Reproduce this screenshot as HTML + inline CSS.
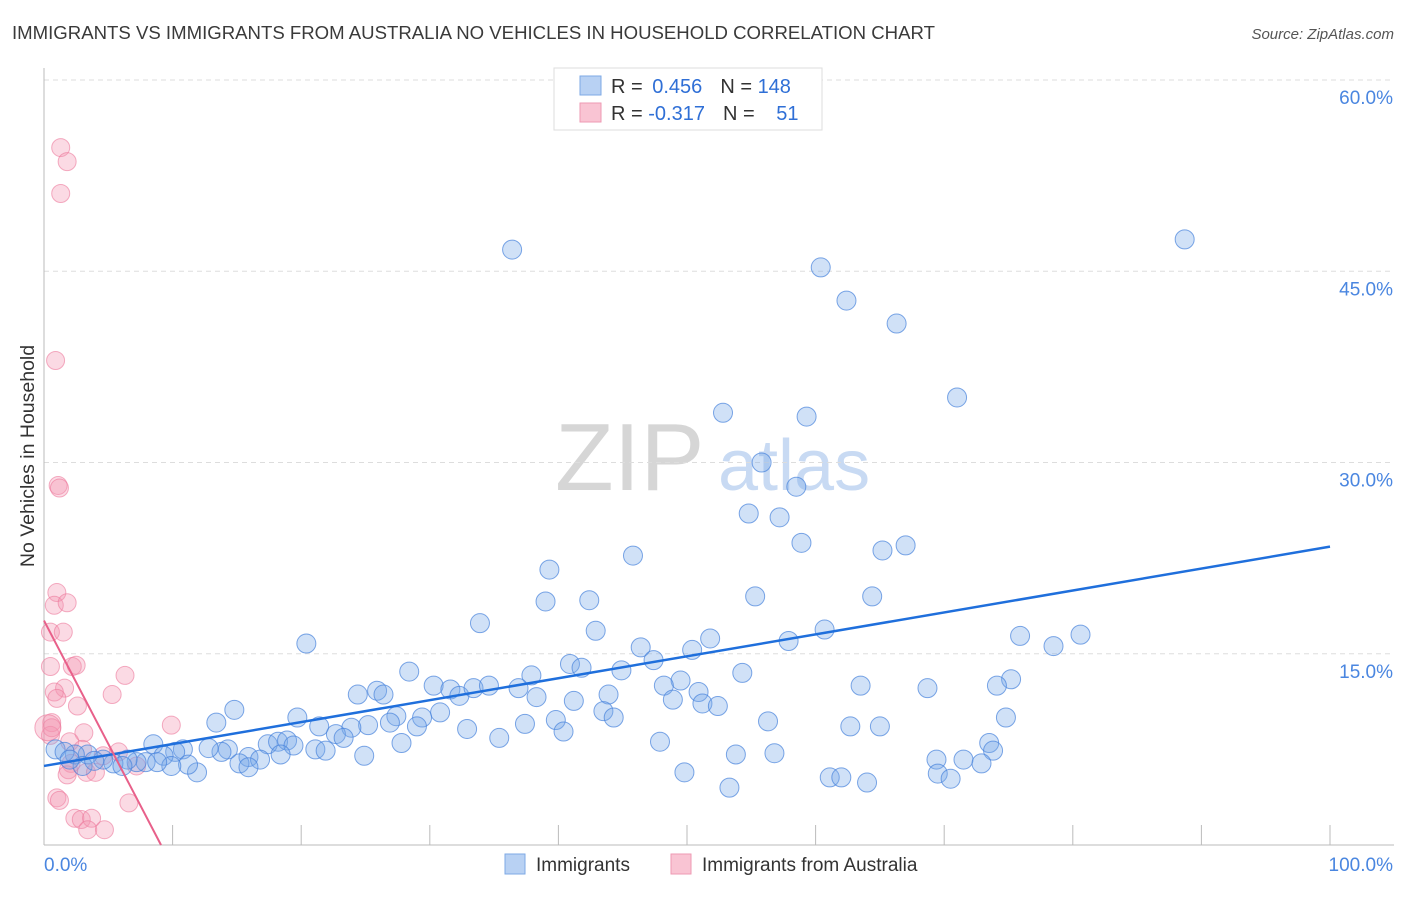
<!DOCTYPE html>
<html><head><meta charset="utf-8"><style>
body{margin:0;background:#fff;font-family:"Liberation Sans",sans-serif;}
svg text{font-family:"Liberation Sans",sans-serif;}
</style></head><body>
<svg id="chart" width="1406" height="892">
<text x="12" y="39" font-size="18.6" fill="#3a3a3a">IMMIGRANTS VS IMMIGRANTS FROM AUSTRALIA NO VEHICLES IN HOUSEHOLD CORRELATION CHART</text>
<text x="1394" y="39" font-size="15" fill="#555" font-style="italic" text-anchor="end">Source: ZipAtlas.com</text>
<g>
<text x="555" y="490" font-size="96" fill="#d6d6d6" font-family="Liberation Serif">ZIP</text>
<text x="718" y="490" font-size="72" fill="#c8daf3">atlas</text>
</g>
<g id="grid"></g>
<g id="axes"></g>
<g id="marks"></g>
<text x="34" y="456" font-size="19.5" fill="#333" text-anchor="middle" transform="rotate(-90 34 456)">No Vehicles in Household</text>
<g>
<rect x="554" y="68" width="268" height="62" fill="#fff" stroke="#ddd"/>
<rect x="580" y="76" width="21" height="19" fill="#b8d1f3" stroke="#7ea9e6"/>
<rect x="580" y="103" width="21" height="19" fill="#f9c4d3" stroke="#ee9ab3"/>
<text x="611" y="93" font-size="20" fill="#333">R = <tspan fill="#2f6fd6" dx="4">0.456</tspan><tspan dx="18">N = </tspan><tspan fill="#2f6fd6">148</tspan></text>
<text x="611" y="120" font-size="20" fill="#333">R = <tspan fill="#2f6fd6">-0.317</tspan><tspan dx="18">N = </tspan><tspan fill="#2f6fd6" dx="16">51</tspan></text>
</g>
<g>
<rect x="505" y="854" width="20" height="20" fill="#b8d1f3" stroke="#7ea9e6"/>
<text x="536" y="871" font-size="19" fill="#333">Immigrants</text>
<rect x="671" y="854" width="20" height="20" fill="#f9c4d3" stroke="#ee9ab3"/>
<text x="702" y="871" font-size="19" fill="#333">Immigrants from Australia</text>
</g>
</svg>
<script>
const blueX=[36.4,88.7,60.4,62.4,66.3,71.0,52.8,59.3,55.8,58.5,54.8,57.2,45.8,58.9,65.2,67.0,39.3,39.0,42.4,55.3,64.4,33.9,20.4,42.9,60.7,80.6,75.9,78.5,51.8,57.9,46.4,50.4,47.4,40.9,41.8,44.9,28.4,37.9,54.3,75.2,74.1,49.5,63.5,68.7,30.3,31.6,32.3,33.4,34.6,36.9,48.2,25.9,26.4,24.4,38.3,41.2,43.9,50.9,48.9,51.2,52.4,14.8,43.5,44.3,30.8,19.7,13.4,27.4,29.4,29.0,26.9,25.2,23.9,21.4,39.8,37.4,40.4,56.3,62.7,65.0,74.8,32.9,22.7,23.3,35.4,47.9,27.8,8.5,17.4,18.2,18.9,19.4,21.1,21.9,24.9,14.3,13.8,12.8,10.8,10.2,9.3,18.4,15.9,16.8,15.2,15.9,53.8,56.8,73.5,73.8,69.4,71.5,72.9,69.5,70.5,61.1,62.0,64.0,49.8,53.3,11.9,11.2,9.9,7.9,7.2,6.5,5.4,4.6,3.4,2.4,0.9,1.6,3.0,3.9,6.1,8.8,2.0];
const blueY=[46.7,47.5,45.3,42.7,40.9,35.1,33.9,33.6,30.0,28.1,26.0,25.7,22.7,23.7,23.1,23.5,21.6,19.1,19.2,19.5,19.5,17.4,15.8,16.8,16.9,16.5,16.4,15.6,16.2,16.0,15.5,15.3,14.5,14.2,13.9,13.7,13.6,13.3,13.5,13.0,12.5,12.9,12.5,12.3,12.5,12.2,11.7,12.3,12.5,12.3,12.5,12.1,11.8,11.8,11.6,11.3,11.8,12.0,11.4,11.1,10.9,10.6,10.5,10.0,10.4,10.0,9.6,10.1,10.0,9.3,9.6,9.4,9.2,9.3,9.8,9.5,8.9,9.7,9.3,9.3,10.0,9.1,8.7,8.4,8.4,8.1,8.0,7.9,7.9,8.1,8.2,7.8,7.5,7.4,7.0,7.5,7.3,7.6,7.5,7.3,7.0,7.1,6.9,6.7,6.4,6.1,7.1,7.2,8.0,7.4,6.7,6.7,6.4,5.6,5.2,5.3,5.3,4.9,5.7,4.5,5.7,6.3,6.2,6.5,6.5,6.7,6.4,6.7,7.1,7.1,7.5,7.3,6.2,6.6,6.2,6.5,6.7];
const pinkX=[1.3,1.8,1.3,0.9,1.1,1.2,1.0,0.8,1.8,0.5,1.5,0.5,2.2,2.5,6.3,1.6,0.8,1.0,5.3,2.6,0.6,0.5,0.6,9.9,3.1,2.0,3.0,5.8,4.6,2.1,1.9,1.8,3.3,4.0,7.2,1.0,1.2,6.6,2.4,2.9,3.7,3.4,4.7,0.3];
const pinkY=[54.7,53.6,51.1,38.0,28.2,28.0,19.8,18.8,19.0,16.7,16.7,14.0,14.0,14.1,13.3,12.3,12.0,11.5,11.8,10.9,9.6,8.6,9.2,9.4,8.8,8.1,7.5,7.3,7.0,6.4,5.9,5.5,5.7,5.7,6.2,3.7,3.5,3.3,2.1,2.0,2.1,1.2,1.2,9.2];
const blueTrend=[6.2,23.4];
const pinkTrend=[17.6,9.1];
const yTicks=[15,30,45,60];
const yTickLabels=["15.0%","30.0%","45.0%","60.0%"];
const xTicks=[0,10,20,30,40,50,60,70,80,90,100];

const NS="http://www.w3.org/2000/svg";
const sx=v=>44+v*12.86, sy=v=>845-v*12.75;
function mk(tag,attrs,parent){const e=document.createElementNS(NS,tag);for(const k in attrs)e.setAttribute(k,attrs[k]);document.getElementById(parent).appendChild(e);return e;}
yTicks.forEach((t,i)=>{
 const g=mk('line',{x1:44,x2:1394,y1:sy(t),y2:sy(t),stroke:'#ddd','stroke-dasharray':'5,4'},'grid');
 
 
 const l=mk('text',{x:1393,y:sy(t)+24,'font-size':19,fill:'#4a86e0','text-anchor':'end'},'grid');
 l.textContent=yTickLabels[i];
 
 
});
const ax=mk('line',{x1:44,x2:44,y1:68,y2:845,stroke:'#bbb'},'axes');


const bx=mk('line',{x1:44,x2:1394,y1:845,y2:845,stroke:'#bbb'},'axes');


xTicks.forEach(t=>{if(t===0)return;
 const e=mk('line',{x1:sx(t),x2:sx(t),y1:825,y2:845,stroke:'#bbb'},'axes');
 
 
});
const x0=mk('text',{x:44,y:871,'font-size':19,fill:'#4a86e0'},'axes');x0.textContent="0.0%";


const x1=mk('text',{x:1393,y:871,'font-size':19,fill:'#4a86e0','text-anchor':'end'},'axes');x1.textContent="100.0%";


pinkX.forEach((x,i)=>{
 const c=mk('circle',{cx:sx(x),cy:sy(pinkY[i]),r:i===pinkX.length-1?13:9,fill:'rgba(244,150,178,0.35)',stroke:'rgba(236,120,155,0.6)','stroke-width':1},'marks');
 
 
});
blueX.forEach((x,i)=>{
 const c=mk('circle',{cx:sx(x),cy:sy(blueY[i]),r:9.5,fill:'rgba(120,168,232,0.35)',stroke:'rgba(70,130,220,0.7)','stroke-width':1},'marks');
 
 
});
const bt=mk('line',{x1:sx(0),y1:sy(blueTrend[0]),x2:sx(100),y2:sy(blueTrend[1]),stroke:'#1f6fdc','stroke-width':2.5},'marks');


const pt=mk('line',{x1:sx(0),y1:sy(pinkTrend[0]),x2:sx(pinkTrend[1]),y2:sy(0),stroke:'#e8608a','stroke-width':2},'marks');


</script>
</body></html>
